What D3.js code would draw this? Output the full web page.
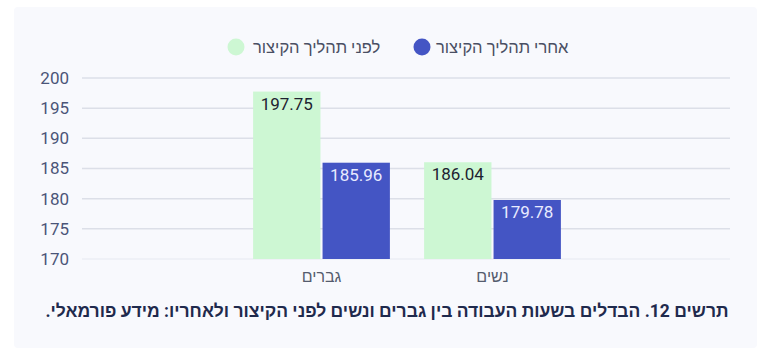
<!DOCTYPE html>
<html>
<head>
<meta charset="utf-8">
<script src="https://cdn.jsdelivr.net/npm/d3@7"></script>
<style>
  body { margin: 0; background: #fff; }
  svg text { font-family: Roboto, "Liberation Sans", sans-serif; }
</style>
</head>
<body>
<svg id="chart" width="768" height="359"></svg>
<script>
const categories = ['גברים', 'נשים'];
const seriesKeys = ['before', 'after'];
const seriesLabels = { before: 'לפני תהליך הקיצור', after: 'אחרי תהליך הקיצור' };
const beforeValues = [197.75, 186.04];
const afterValues = [185.96, 179.78];
const yTicks = [170, 175, 180, 185, 190, 195, 200];
const caption = 'תרשים 12. הבדלים בשעות העבודה בין גברים ונשים לפני הקיצור ולאחריו: מידע פורמאלי.';

const colors = { before: '#cdf7d3', after: '#4455c4' };
const labelColors = { before: '#1e2230', after: '#e8ebff' };

const data = categories.map((c, i) => ({ cat: c, before: beforeValues[i], after: afterValues[i] }));

const svg = d3.select('#chart');

// panel
svg.append('rect')
    .attr('x', 14).attr('y', 7)
    .attr('width', 743).attr('height', 341)
    .attr('rx', 4)
    .attr('fill', '#f8f9fd');

const plot = { left: 82, right: 730, top: 78, bottom: 259 };

const y = d3.scaleLinear()
    .domain([170, 200])
    .range([plot.bottom, plot.top]);

// The scale spacing the groups:
const x0 = d3.scaleBand()
    .domain(categories)
    .range([236, 578])
    .paddingInner(0.2)
    .paddingOuter(0.1);

// The scale for each group's bar:
const x1 = d3.scaleBand()
    .domain(seriesKeys)
    .range([0, x0.bandwidth()])
    .paddingInner(0.03);

// grid
const grid = svg.append('g');
grid.selectAll('line')
    .data(yTicks)
    .enter().append('line')
    .attr('x1', plot.left).attr('x2', plot.right)
    .attr('y1', d => y(d)).attr('y2', d => y(d))
    .attr('stroke', d => d === 170 ? '#eceef4' : '#dcdfe8')
    .attr('stroke-width', 1.5);

// y axis labels
const yAxis = svg.append('g')
    .attr('transform', `translate(${plot.left - 13},0)`)
    .call(d3.axisLeft(y).tickValues(yTicks).tickSize(0).tickPadding(0));
yAxis.select('.domain').remove();
yAxis.selectAll('text')
    .attr('fill', '#4b5578')
    .style('font-size', '17px');

// bars
const groups = svg.append('g').selectAll('g')
    .data(data)
    .enter().append('g')
    .attr('transform', d => `translate(${x0(d.cat)},0)`);

const bars = groups.selectAll('g')
    .data(d => seriesKeys.map(k => ({ key: k, value: d[k] })))
    .enter().append('g');

bars.append('rect')
    .attr('x', d => x1(d.key))
    .attr('y', d => y(d.value))
    .attr('width', x1.bandwidth())
    .attr('height', d => y(170) - y(d.value))
    .attr('fill', d => colors[d.key]);

bars.append('text')
    .attr('x', d => x1(d.key) + x1.bandwidth() / 2)
    .attr('y', d => y(d.value) + 12)
    .attr('dy', '0.35em')
    .attr('text-anchor', 'middle')
    .attr('fill', d => labelColors[d.key])
    .style('font-size', '17px')
    .text(d => d.value.toFixed(2));

// x axis labels
const xAxis = svg.append('g')
    .attr('transform', `translate(0,${plot.bottom})`)
    .call(d3.axisBottom(x0).tickSize(0).tickPadding(12));
xAxis.select('.domain').remove();
xAxis.selectAll('text')
    .attr('fill', '#555c6e')
    .style('font-size', '16px');

// legend
const legendItems = [
    { key: 'before', cx: 236, tx: 253 },
    { key: 'after', cx: 422, tx: 436 }
];
const legend = svg.append('g').selectAll('g')
    .data(legendItems)
    .enter().append('g');
legend.append('circle')
    .attr('cx', d => d.cx)
    .attr('cy', 47)
    .attr('r', 8.5)
    .attr('fill', d => colors[d.key]);
legend.append('text')
    .attr('x', d => d.tx)
    .attr('y', 47)
    .attr('dy', '0.35em')
    .attr('fill', '#4a4f63')
    .style('font-size', '16.5px')
    .text(d => seriesLabels[d.key]);

// caption
svg.append('text')
    .attr('x', 387)
    .attr('y', 311)
    .attr('dy', '0.35em')
    .attr('text-anchor', 'middle')
    .attr('direction', 'rtl')
    .attr('fill', '#1f2a4d')
    .style('font-size', '17.5px')
    .style('font-weight', 'bold')
    .text(caption);
</script>
</body>
</html>
